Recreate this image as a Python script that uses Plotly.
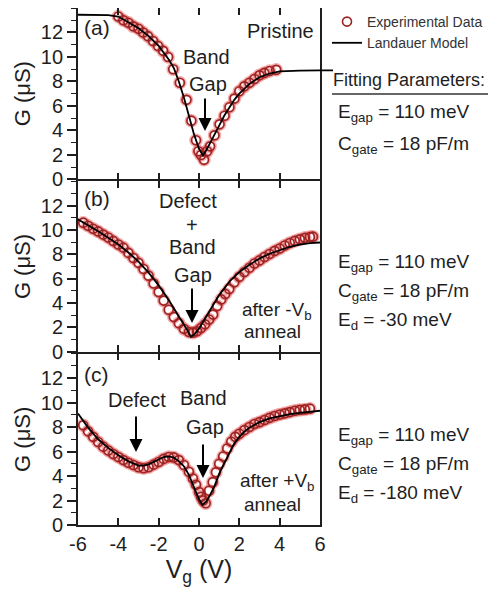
import plotly.graph_objects as go

# ---------------- data ----------------
X_TICKS = [-6, -4, -2, 0, 2, 4, 6]
X_TICK_LABELS = ["-6", "-4", "-2", "0", "2", "4", "6"]
Y_TICKS = [0, 2, 4, 6, 8, 10, 12]

# Panel (a) Pristine
A_X = [-4.0, -3.75, -3.5, -3.26, -3.0, -2.77, -2.53, -2.28, -2.03, -1.78, -1.53, -1.28, -0.95,
       -0.62, -0.38, -0.15, -0.03, 0.1, 0.25, 0.4, 0.55, 0.77, 1.02, 1.27, 1.51, 1.76, 2.0,
       2.25, 2.5, 2.75, 3.0, 3.24, 3.5, 3.83]
A_G = [13.3, 13.0, 12.8, 12.5, 12.3, 12.0, 11.7, 11.3, 10.9, 10.5, 10.0, 9.0, 7.9,
       6.5, 4.8, 3.2, 2.3, 2.0, 1.6, 2.3, 2.7, 3.6, 4.5, 5.2, 5.9, 6.6, 7.2,
       7.6, 7.9, 8.2, 8.5, 8.7, 8.85, 8.95]
A_MODEL_X = [-6, -5, -4.5, -4, -3.5, -3, -2.5, -2, -1.5, -1.25, -1, -0.75, -0.5, -0.25, 0, 0.2,
             0.4, 0.7, 1, 1.25, 1.5, 1.75, 2, 2.5, 3, 3.5, 4, 4.5, 5, 6]
A_MODEL_G = [13.45, 13.45, 13.42, 13.3, 12.85, 12.35, 11.7, 10.9, 9.8, 9.1, 8.0, 6.7, 5.2, 3.7,
             2.5, 1.95, 2.5, 3.4, 4.4, 5.2, 5.9, 6.5, 7.0, 7.8, 8.35, 8.65, 8.82, 8.87, 8.88, 8.9]

# Panel (b) after -Vb anneal
B_X = [-5.74, -5.5, -5.25, -5.0, -4.75, -4.5, -4.25, -4.0, -3.75, -3.5, -3.25, -3.0, -2.75,
       -2.5, -2.25, -2.0, -1.75, -1.5, -1.25, -1.0, -0.75, -0.5, -0.3, -0.1, 0.1, 0.3, 0.5,
       0.7, 0.9, 1.1, 1.3, 1.5, 1.75, 2.0, 2.25, 2.5, 2.75, 3.0, 3.25, 3.5, 3.75, 4.0, 4.25,
       4.5, 4.75, 5.0, 5.25, 5.5, 5.65]
B_G = [10.6, 10.35, 10.1, 9.88, 9.62, 9.38, 9.1, 8.8, 8.55, 8.12, 7.7, 7.3, 6.8,
       6.25, 5.6, 4.9, 4.2, 3.45, 2.85, 2.35, 1.88, 1.62, 1.57, 1.68, 1.95, 2.25, 2.65,
       3.05, 3.75, 4.3, 4.75, 5.15, 5.7, 6.15, 6.55, 6.9, 7.25, 7.5, 7.78, 8.02, 8.28, 8.48, 8.72,
       8.93, 9.1, 9.23, 9.35, 9.42, 9.45]
B_MODEL_X = [-6, -5.5, -5, -4.5, -4, -3.5, -3, -2.5, -2, -1.5, -1, -0.75, -0.5, -0.4, -0.25, 0,
             0.25, 0.5, 0.75, 1, 1.5, 2, 2.5, 3, 3.5, 4, 4.5, 5, 5.5, 6]
B_MODEL_G = [10.87, 10.4, 9.9, 9.35, 8.8, 8.15, 7.4, 6.5, 5.45, 4.25, 2.95, 2.25, 1.55, 1.24, 1.4,
             1.9, 2.6, 3.3, 4.0, 4.65, 5.75, 6.55, 7.15, 7.65, 8.05, 8.35, 8.62, 8.8, 8.92, 8.97]

# Panel (c) after +Vb anneal
C_X = [-5.74, -5.5, -5.25, -5.0, -4.75, -4.5, -4.25, -4.0, -3.75, -3.5, -3.25, -3.0, -2.75,
       -2.5, -2.25, -2.0, -1.75, -1.5, -1.25, -1.0, -0.75, -0.5, -0.3, -0.15, 0.0, 0.1, 0.2,
       0.33, 0.5, 0.68, 0.84, 1.0, 1.2, 1.4, 1.6, 1.8, 2.0, 2.25, 2.5, 2.75, 3.0, 3.25, 3.5,
       3.75, 4.0, 4.25, 4.5, 4.75, 5.0, 5.25, 5.5]
C_G = [8.15, 7.65, 7.2, 6.78, 6.4, 6.08, 5.8, 5.55, 5.3, 5.08, 4.9, 4.72, 4.63,
       4.72, 4.93, 5.15, 5.4, 5.55, 5.52, 5.3, 4.9, 4.35, 3.8, 3.28, 2.7, 2.3, 2.0,
       1.78, 2.8, 3.5, 4.3, 5.0, 5.6, 6.25, 6.8, 7.2, 7.45, 7.75, 8.0, 8.25, 8.4, 8.57, 8.75,
       8.9, 9.02, 9.12, 9.22, 9.33, 9.4, 9.44, 9.5]
C_MODEL_X = [-6, -5.5, -5, -4.5, -4, -3.5, -3, -2.75, -2.5, -2, -1.75, -1.5, -1.25, -1, -0.75,
             -0.5, -0.25, 0, 0.17, 0.35, 0.5, 0.75, 1, 1.25, 1.5, 1.75, 2, 2.25, 2.5, 3, 3.5, 4,
             4.5, 5, 5.5, 6]
C_MODEL_G = [9.1, 7.95, 7.0, 6.3, 5.7, 5.2, 4.85, 4.85, 4.95, 5.35, 5.55, 5.6, 5.5, 5.2, 4.8,
             4.1, 3.1, 2.1, 1.65, 1.9, 2.3, 3.1, 4.2, 5.04, 5.9, 6.67, 7.2, 7.62, 7.95, 8.4, 8.7,
             8.9, 9.05, 9.15, 9.25, 9.33]

# ---------------- layout constants ----------------
# the page body has an 8px margin, so the figure is made 8px smaller and margins compensate
BODY = 8
W, H = 496 - BODY, 598 - BODY
ML, MR, MT, MB = 78 - BODY, 176, 8 - BODY, 73
PW = W - ML - MR
PH = H - MT - MB
PLOT_LEFT = ML + BODY          # page pixel of the left axis
PLOT_BOTTOM = BODY + H - MB    # page pixel of the bottom axis
FONT = "Arial, Liberation Sans, sans-serif"
INK = "#1e1e1e"
Y_RANGE = [0, 14]
LW = 1.8


def P(px, py):
    """page pixel position -> paper coordinates"""
    return (px - PLOT_LEFT) / PW, (PLOT_BOTTOM - py) / PH


fig = go.Figure()

panels = [(A_X, A_G, A_MODEL_X, A_MODEL_G),
          (B_X, B_G, B_MODEL_X, B_MODEL_G),
          (C_X, C_G, C_MODEL_X, C_MODEL_G)]

for i, (dx, dg, mx, mg) in enumerate(panels):
    xa = "x" if i == 0 else f"x{i+1}"
    ya = "y" if i == 0 else f"y{i+1}"
    fig.add_trace(go.Scatter(
        x=dx, y=dg, mode="markers", xaxis=xa, yaxis=ya, showlegend=False, hoverinfo="skip",
        marker=dict(symbol="circle-open", size=10, color="rgba(230,70,70,0.45)",
                    line=dict(width=3.5))))
    fig.add_trace(go.Scatter(
        x=dx, y=dg, mode="markers", xaxis=xa, yaxis=ya, name="Experimental Data",
        showlegend=(i == 0), legendrank=1,
        marker=dict(symbol="circle-open", size=9, color="#9b2323", line=dict(width=1.6))))
    fig.add_trace(go.Scatter(
        x=mx, y=mg, mode="lines", xaxis=xa, yaxis=ya, name="Landauer Model",
        showlegend=(i == 0), legendrank=2,
        line=dict(color="black", width=1.8)))

layout_axes = {}
g = LW / PH / 2  # half-gap so that neighbouring border lines coincide
domains = [[2 / 3 + g, 1], [1 / 3 + g, 2 / 3 - g], [0, 1 / 3 - g]]
for i in range(3):
    xk = "xaxis" if i == 0 else f"xaxis{i+1}"
    yk = "yaxis" if i == 0 else f"yaxis{i+1}"
    layout_axes[xk] = dict(
        domain=[0, 1], range=[-6, 6], anchor="y" if i == 0 else f"y{i+1}",
        tickvals=X_TICKS, ticktext=X_TICK_LABELS, ticks="inside", ticklen=7, tickwidth=1.6,
        tickcolor=INK, mirror="ticks", showline=True, linecolor=INK, linewidth=LW,
        showgrid=False, zeroline=False, showticklabels=(i == 2), automargin=False,
        tickfont=dict(family=FONT, size=20, color=INK),
        title=dict(text="V<sub>g</sub> (V)" if i == 2 else "",
                   font=dict(family=FONT, size=25, color=INK), standoff=6))
    layout_axes[yk] = dict(
        domain=domains[i], range=Y_RANGE, anchor="x" if i == 0 else f"x{i+1}",
        tickvals=Y_TICKS, ticks="outside", ticklen=9, tickwidth=1.6, tickcolor=INK,
        minor=dict(dtick=1, tick0=0, ticks="outside", ticklen=5, tickwidth=1.4, tickcolor=INK),
        mirror=True, showline=True, linecolor=INK, linewidth=LW, automargin=False,
        showgrid=False, zeroline=False,
        tickfont=dict(family=FONT, size=20, color=INK),
        title=dict(text="G (μS)", font=dict(family=FONT, size=22, color=INK), standoff=4))

annotations = []


def txt(text, px, py, size=20, xanchor="center", yanchor="middle"):
    x, y = P(px, py)
    annotations.append(dict(text=text, x=x, y=y, xref="paper", yref="paper",
                            xanchor=xanchor, yanchor=yanchor, showarrow=False,
                            font=dict(family=FONT, size=size, color=INK)))


def arrow(px, py_top, py_tip):
    x, y = P(px, py_tip)
    annotations.append(dict(text="", x=x, y=y, xref="paper", yref="paper",
                            ax=0, ay=-(py_tip - py_top), showarrow=True,
                            arrowhead=2, arrowsize=1.3, arrowwidth=2, arrowcolor="black"))


# panel (a)
txt("(a)", 82, 28, 21, xanchor="left")
txt("Pristine", 316, 31, 20, xanchor="right")
txt("Band", 206, 57)
txt("Gap", 208, 84)
arrow(205, 97, 131)
# panel (b)
txt("(b)", 82, 198, 21, xanchor="left")
txt("Defect", 188, 201)
txt("+", 192, 225)
txt("Band", 192, 247)
txt("Gap", 193, 275)
arrow(192, 287, 323)
txt("after -V<sub>b</sub>", 277, 311, 19)
txt("anneal", 272, 331, 19)
# panel (c)
txt("(c)", 82, 374, 21, xanchor="left")
txt("Defect", 137, 400)
arrow(136, 415, 452)
txt("Band", 203, 398)
txt("Gap", 205, 427)
arrow(203, 443, 478)
txt("after +V<sub>b</sub>", 277, 482, 19)
txt("anneal", 272, 504, 19)

# right-hand parameters
txt("Fitting Parameters:", 331, 80, 18, xanchor="left")
txt("E<sub>gap</sub> = 110 meV", 336, 113, 19, xanchor="left")
txt("C<sub>gate</sub> = 18 pF/m", 336, 145, 19, xanchor="left")
txt("E<sub>gap</sub> = 110 meV", 336, 263, 19, xanchor="left")
txt("C<sub>gate</sub> = 18 pF/m", 336, 292, 19, xanchor="left")
txt("E<sub>d</sub> = -30 meV", 336, 321, 19, xanchor="left")
txt("E<sub>gap</sub> = 110 meV", 336, 436, 19, xanchor="left")
txt("C<sub>gate</sub> = 18 pF/m", 336, 465, 19, xanchor="left")
txt("E<sub>d</sub> = -180 meV", 336, 494, 19, xanchor="left")

ux0, uy = P(332, 94)
ux1, _ = P(496, 94)
ex1, _ = P(333, 0)
shapes = [dict(type="line", xref="paper", yref="paper", x0=ux0, x1=ux1, y0=uy, y1=uy,
               line=dict(color="#333", width=1.5)),
          # the pristine model curve runs on a little past the right frame in the original
          dict(type="line", xref="paper", yref="y", x0=1, x1=ex1,
               y0=A_MODEL_G[-1], y1=A_MODEL_G[-1], line=dict(color="black", width=1.8))]

lx, ly = P(327, 6)
fig.update_layout(
    width=W, height=H, margin=dict(l=ML, r=MR, t=MT, b=MB, autoexpand=False),
    paper_bgcolor="white", plot_bgcolor="white",
    font=dict(family=FONT, color=INK),
    showlegend=True,
    legend=dict(x=lx, y=ly, xanchor="left", yanchor="top", bgcolor="rgba(0,0,0,0)",
                font=dict(family=FONT, size=14, color="#333"), tracegroupgap=0,
                itemwidth=30),
    annotations=annotations, shapes=shapes,
    **layout_axes)

fig.write_html("out.html")
